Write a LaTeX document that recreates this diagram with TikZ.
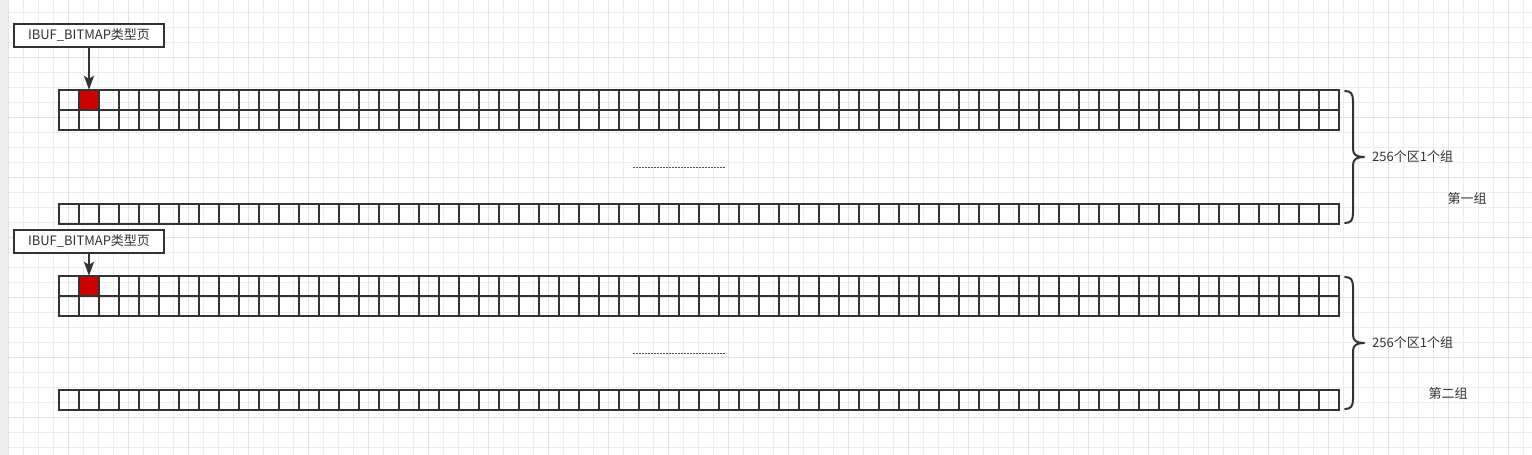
\documentclass[tikz,border=0pt]{standalone}
\usepackage{fontspec}
\newfontfamily\cjk{Noto Sans CJK SC}
\usetikzlibrary{arrows.meta}
\definecolor{ink}{HTML}{333333}
\definecolor{gridc}{HTML}{EDEDED}
\definecolor{gridm}{HTML}{E2E2E2}
\definecolor{strip}{HTML}{EEEEEE}
\definecolor{redc}{HTML}{CC0000}
\tikzset{
 cellline/.style={draw=ink, line width=2pt},
 lbl/.style={draw=ink, line width=2pt, fill=white, minimum width=150pt, minimum height=23pt, inner sep=0pt, font=\cjk\fontsize{13}{15}\selectfont, text=ink},
 redcell/.style={fill=redc, minimum size=20pt, inner sep=0pt},
 note/.style={font=\cjk\fontsize{13}{15}\selectfont, text=ink, inner sep=0pt},
 ptr/.style={draw=ink, line width=2pt, -{Stealth[length=14pt,width=10pt,inset=3pt]}},
 bracepath/.style={draw=ink, line width=2pt, line join=round, line cap=round},
 dots/.style={draw=ink!85, line width=1.3pt, dash pattern=on 1.5pt off 1.5pt},
 gridline/.style={draw=gridc, line width=1pt},
 gridmajor/.style={draw=gridm, line width=1pt},
}
\begin{document}
\begin{tikzpicture}[x=1pt,y=-1pt]
\useasboundingbox (0,0) rectangle (1532,455);
\fill[white] (0,0) rectangle (1532,455);
\fill[strip] (0,0) rectangle (8,455);
\foreach \x in {8,23,...,1532} \draw[gridline] (\x,0) -- (\x,455);
\foreach \y in {12,27,...,455} \draw[gridline] (8,\y) -- (1532,\y);
\foreach \x in {8,68,...,1532} \draw[gridmajor] (\x,0) -- (\x,455);
\foreach \y in {57,117,...,455} \draw[gridmajor] (8,\y) -- (1532,\y);

\foreach \o [count=\g] in {0,186} {
 \begin{scope}[shift={(0,\o)}]
  \node[redcell] (red\g) at (89,100) {};
  \draw[cellline] (59,90) rectangle (1339,130);
  \draw[cellline] (59,110) -- (1339,110);
  \foreach \i in {1,...,63} \draw[cellline] (59+20*\i,90) -- (59+20*\i,130);
  \draw[cellline] (59,204) rectangle (1339,224);
  \foreach \i in {1,...,63} \draw[cellline] (59+20*\i,204) -- (59+20*\i,224);
  \draw[dots] (633,167.5) -- (725,167.5);
  \draw[bracepath] (1345,91) .. controls (1351,91) and (1353,94) .. (1353,101)
     -- (1353,149) .. controls (1353,155) and (1357,157) .. (1364,157)
     .. controls (1357,157) and (1353,159) .. (1353,165)
     -- (1353,213) .. controls (1353,220) and (1351,223) .. (1345,223);
  \node[note, anchor=west] (cnt\g) at (1372,157) {256个区1个组};
 \end{scope}
}
\node[lbl] (lab1) at (89,35) {IBUF\_BITMAP类型页};
\node[lbl] (lab2) at (89,241) {IBUF\_BITMAP类型页};
\draw[ptr] (lab1.south) -- (red1.north);
\draw[ptr] (lab2.south) -- (red2.north);
\node[note] (g1) at (1467,199) {第一组};
\node[note] (g2) at (1448,394) {第二组};
\end{tikzpicture}
\end{document}
